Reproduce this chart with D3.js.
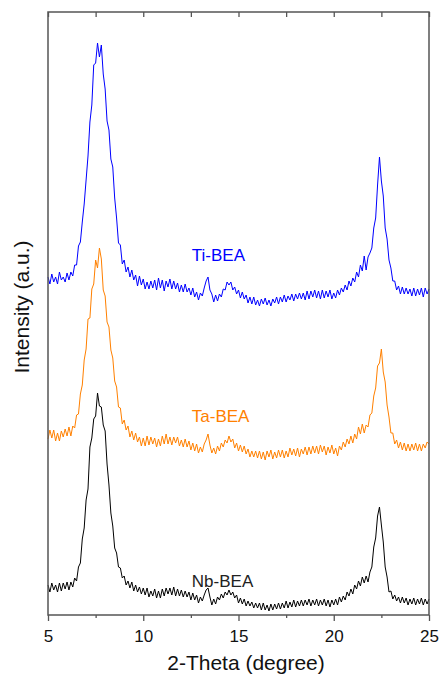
<!DOCTYPE html>
<html lang="en">
<head>
  <meta charset="UTF-8" />
  <script src="https://d3js.org/d3.v7.min.js"></script>
  <title>XRD patterns</title>
  <style>
    body { margin: 0; background: #fff; }
    svg text { font-family: "Liberation Sans", Arial, sans-serif; }
  </style>
</head>
<body>
  <div id="chart"></div>
  <script>
    // scan parameters (2-theta, degree)
    const scanStart = 5, scanStep = 0.1;

    // intensities (a.u.), already stacked with the offsets used in the plot
    const tiBEA = [
      338,331,341,333,338,331,343,335,338,333,
      342,335,343,339,350,350,369,373,393,411,
      435,459,493,510,550,552,572,558,570,541,
      526,494,485,456,448,417,397,372,370,351,
      355,343,348,338,345,335,340,329,339,330,
      336,326,333,326,334,327,335,325,337,327,
      335,324,334,328,336,326,334,326,332,323,
      330,323,331,323,327,320,327,318,323,315,
      322,319,327,334,338,325,321,313,320,314,
      321,318,326,325,333,330,333,325,328,321,
      325,317,323,316,320,312,318,311,318,310,
      315,309,316,311,317,310,315,309,316,312,
      318,311,318,313,320,313,319,315,321,314,
      321,316,322,316,322,315,324,316,324,318,
      325,317,324,316,325,317,324,318,325,316,
      322,317,325,320,327,323,330,325,334,329,
      337,333,343,338,350,344,359,345,358,362,
      367,387,397,430,458,434,419,387,376,355,
      347,334,334,325,329,321,328,321,327,321,
      326,319,327,319,326,320,327,318,327,321,
      326
    ];

    const taBEA = [
      176,185,177,185,174,182,174,184,178,186,
      179,188,179,189,187,200,201,221,230,255,
      266,296,297,326,331,355,347,367,356,325,
      319,293,288,265,257,234,228,208,207,191,
      195,185,189,178,184,175,182,173,178,169,
      177,169,179,170,178,171,177,168,176,169,
      179,171,181,171,178,170,178,172,178,169,
      175,168,176,168,174,165,172,164,171,162,
      168,163,171,175,181,170,162,167,161,169,
      164,172,168,175,172,179,173,176,167,172,
      164,170,163,169,161,166,158,164,158,164,
      157,164,156,163,155,164,158,165,156,163,
      157,165,158,165,157,164,158,167,160,166,
      159,167,158,166,161,168,160,168,161,169,
      162,169,161,170,163,169,160,168,162,170,
      161,167,159,169,165,173,168,176,171,179,
      172,181,176,188,181,191,182,190,188,200,
      202,219,227,249,252,266,243,233,210,198,
      182,182,171,175,167,173,165,172,164,171,
      164,171,165,172,164,171,164,171,167,173,
      171
    ];

    const nbBEA = [
      30,23,32,25,30,23,32,24,32,26,
      33,25,33,28,37,34,48,52,76,87,
      115,126,168,177,196,199,222,209,208,190,
      184,151,130,102,89,67,62,48,47,37,
      39,30,34,27,33,24,30,23,28,21,
      27,20,27,18,24,19,26,17,24,17,
      26,19,27,21,27,20,28,19,26,19,
      25,18,24,18,23,15,22,15,20,12,
      18,14,20,25,27,18,10,16,11,18,
      15,21,17,23,20,25,20,23,17,20,
      12,17,11,16,9,14,9,13,7,12,
      7,12,5,12,5,10,4,11,5,11,
      6,12,6,12,7,14,7,13,8,15,
      8,14,9,15,9,15,10,16,9,15,
      10,16,9,15,10,16,9,15,8,15,
      10,16,10,18,13,19,15,23,19,26,
      21,30,26,34,29,38,32,39,33,43,
      48,68,77,99,108,90,73,48,38,23,
      24,16,20,14,18,12,18,12,17,10,
      16,11,17,10,16,11,17,10,16,11,
      16
    ];

    const seriesNames = ["Ti-BEA", "Ta-BEA", "Nb-BEA"];
    const seriesColors = ["#0000ff", "#ff8000", "#000000"];
    // label anchor (2-theta, intensity) for each pattern
    const labelTheta = [12.55, 12.55, 12.55];
    const labelIntensity = [354, 193, 28];

    const majorTicks = [5, 10, 15, 20, 25];
    const minorTicks = [7.5, 12.5, 17.5, 22.5];

    const width = 442, height = 677;
    const margin = { top: 12, right: 13, bottom: 62, left: 48 };

    const svg = d3.select("#chart")
      .append("svg")
      .attr("width", width)
      .attr("height", height);

    const x = d3.scaleLinear()
      .domain([5, 25])
      .range([margin.left, width - margin.right]);

    const y = d3.scaleLinear()
      .domain([0, 603])
      .range([height - margin.bottom, margin.top]);

    const series = [tiBEA, taBEA, nbBEA].map((vals, k) => ({
      name: seriesNames[k],
      color: seriesColors[k],
      points: vals.map((v, i) => [scanStart + i * scanStep, v])
    }));

    const line = d3.line()
      .x(d => x(d[0]))
      .y(d => y(d[1]));

    svg.selectAll("path.pattern")
      .data(series)
      .enter()
      .append("path")
      .attr("class", "pattern")
      .attr("fill", "none")
      .attr("stroke", d => d.color)
      .attr("stroke-width", 1)
      .attr("stroke-linejoin", "round")
      .attr("d", d => line(d.points));

    svg.selectAll("text.label")
      .data(series)
      .enter()
      .append("text")
      .attr("class", "label")
      .attr("x", (d, i) => x(labelTheta[i]))
      .attr("y", (d, i) => y(labelIntensity[i]))
      .attr("fill", d => d.color === "#000000" ? "#222" : d.color)
      .attr("font-size", "17px")
      .text(d => d.name);

    const axisColor = "#555";

    // bottom axis, major + minor ticks
    const gx = svg.append("g")
      .attr("transform", `translate(0,${height - margin.bottom})`)
      .call(d3.axisBottom(x).tickValues(majorTicks).tickSize(6).tickPadding(9).tickFormat(d3.format("d")));
    gx.select(".domain").remove();
    gx.selectAll("line").attr("stroke", axisColor).attr("stroke-width", 1.3);
    gx.selectAll("text").attr("font-size", "17px").attr("fill", "#111");

    const gxMinor = svg.append("g")
      .attr("transform", `translate(0,${height - margin.bottom})`)
      .call(d3.axisBottom(x).tickValues(minorTicks).tickSize(3).tickFormat(""));
    gxMinor.select(".domain").remove();
    gxMinor.selectAll("line").attr("stroke", axisColor).attr("stroke-width", 1.3);

    // top axis, inward ticks
    const gTop = svg.append("g")
      .attr("transform", `translate(0,${margin.top})`)
      .call(d3.axisBottom(x).tickValues(majorTicks.concat(minorTicks)).tickSize(5).tickFormat(""));
    gTop.select(".domain").remove();
    gTop.selectAll("line").attr("stroke", axisColor).attr("stroke-width", 1.3);

    // frame
    svg.append("rect")
      .attr("x", margin.left)
      .attr("y", margin.top)
      .attr("width", width - margin.left - margin.right)
      .attr("height", height - margin.top - margin.bottom)
      .attr("fill", "none")
      .attr("stroke", axisColor)
      .attr("stroke-width", 1.5);

    svg.append("text")
      .attr("x", 246)
      .attr("y", 670)
      .attr("text-anchor", "middle")
      .attr("font-size", "21px")
      .attr("fill", "#111")
      .text("2-Theta (degree)");

    svg.append("text")
      .attr("transform", "rotate(-90)")
      .attr("x", -307)
      .attr("y", 29)
      .attr("text-anchor", "middle")
      .attr("font-size", "21px")
      .attr("fill", "#111")
      .text("Intensity (a.u.)");
  </script>
</body>
</html>
